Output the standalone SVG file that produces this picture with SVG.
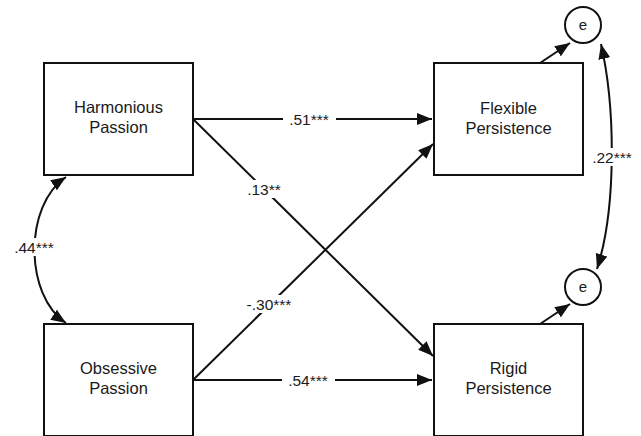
<svg xmlns="http://www.w3.org/2000/svg" width="641" height="436" viewBox="0 0 641 436">
<style>
.box{fill:#fff;stroke:#111;stroke-width:2}
.lbl{font-family:"Liberation Sans",Arial,sans-serif;font-size:16.5px;fill:#1a1a1a;text-anchor:middle}
.coef{font-family:"Liberation Sans",Arial,sans-serif;font-size:15.5px;fill:#1a1a1a;text-anchor:middle;dominant-baseline:central}
.edge{fill:none;stroke:#111;stroke-width:2}
.gap{fill:#fff}
</style>
<defs>
<marker id="ah" markerUnits="userSpaceOnUse" markerWidth="16" markerHeight="12" refX="15" refY="6" orient="auto-start-reverse">
<path d="M0,0 L15,6 L0,12 Z" fill="#111"/>
</marker>
</defs>
<g id="connectors">
<line class="edge" x1="193" y1="119" x2="432" y2="119" marker-end="url(#ah)"/>
<line class="edge" x1="193" y1="119" x2="433" y2="356" marker-end="url(#ah)"/>
<line class="edge" x1="193" y1="380" x2="433" y2="144" marker-end="url(#ah)"/>
<line class="edge" x1="193" y1="380" x2="432" y2="380" marker-end="url(#ah)"/>
<line class="edge" x1="540" y1="63" x2="570" y2="43" marker-end="url(#ah)"/>
<line class="edge" x1="540" y1="324" x2="570" y2="304" marker-end="url(#ah)"/>
<path class="edge" d="M66,177 C24,205 24,295 66,323" marker-start="url(#ah)" marker-end="url(#ah)"/>
<path class="edge" d="M601,44 C616,110 616,210 597,269" marker-start="url(#ah)" marker-end="url(#ah)"/>
<rect class="gap" x="283" y="110" width="53" height="18"/>
<text class="coef" x="309" y="119">.51***</text>
<rect class="gap" x="245" y="180" width="38" height="18"/>
<text class="coef" x="264" y="189">.13**</text>
<rect class="gap" x="244" y="295" width="50" height="18"/>
<text class="coef" x="269" y="304">-.30***</text>
<rect class="gap" x="282" y="371" width="53" height="18"/>
<text class="coef" x="308" y="380">.54***</text>
<rect class="gap" x="13" y="238" width="43" height="18"/>
<text class="coef" x="34" y="247">.44***</text>
<rect class="gap" x="590" y="148" width="45" height="18"/>
<text class="coef" x="612" y="157">.22***</text>
</g>
<g id="harmonious">
<rect class="box" x="44" y="63" width="149" height="112"/>
<text class="lbl" x="118.5" y="113">Harmonious</text>
<text class="lbl" x="118.5" y="133">Passion</text>
</g>
<g id="obsessive">
<rect class="box" x="44" y="324" width="149" height="112"/>
<text class="lbl" x="118.5" y="374">Obsessive</text>
<text class="lbl" x="118.5" y="394">Passion</text>
</g>
<g id="flexible">
<rect class="box" x="434" y="63" width="149" height="112"/>
<text class="lbl" x="508.5" y="114">Flexible</text>
<text class="lbl" x="508.5" y="134">Persistence</text>
</g>
<g id="rigid">
<rect class="box" x="434" y="324" width="149" height="112"/>
<text class="lbl" x="508.5" y="374">Rigid</text>
<text class="lbl" x="508.5" y="394">Persistence</text>
</g>
<g id="e1">
<circle cx="583" cy="25" r="18" fill="#fff" stroke="#111" stroke-width="2"/>
<text class="lbl" x="583" y="30" style="font-size:15px">e</text>
</g>
<g id="e2">
<circle cx="583" cy="287" r="18" fill="#fff" stroke="#111" stroke-width="2"/>
<text class="lbl" x="583" y="292" style="font-size:15px">e</text>
</g>
</svg>
